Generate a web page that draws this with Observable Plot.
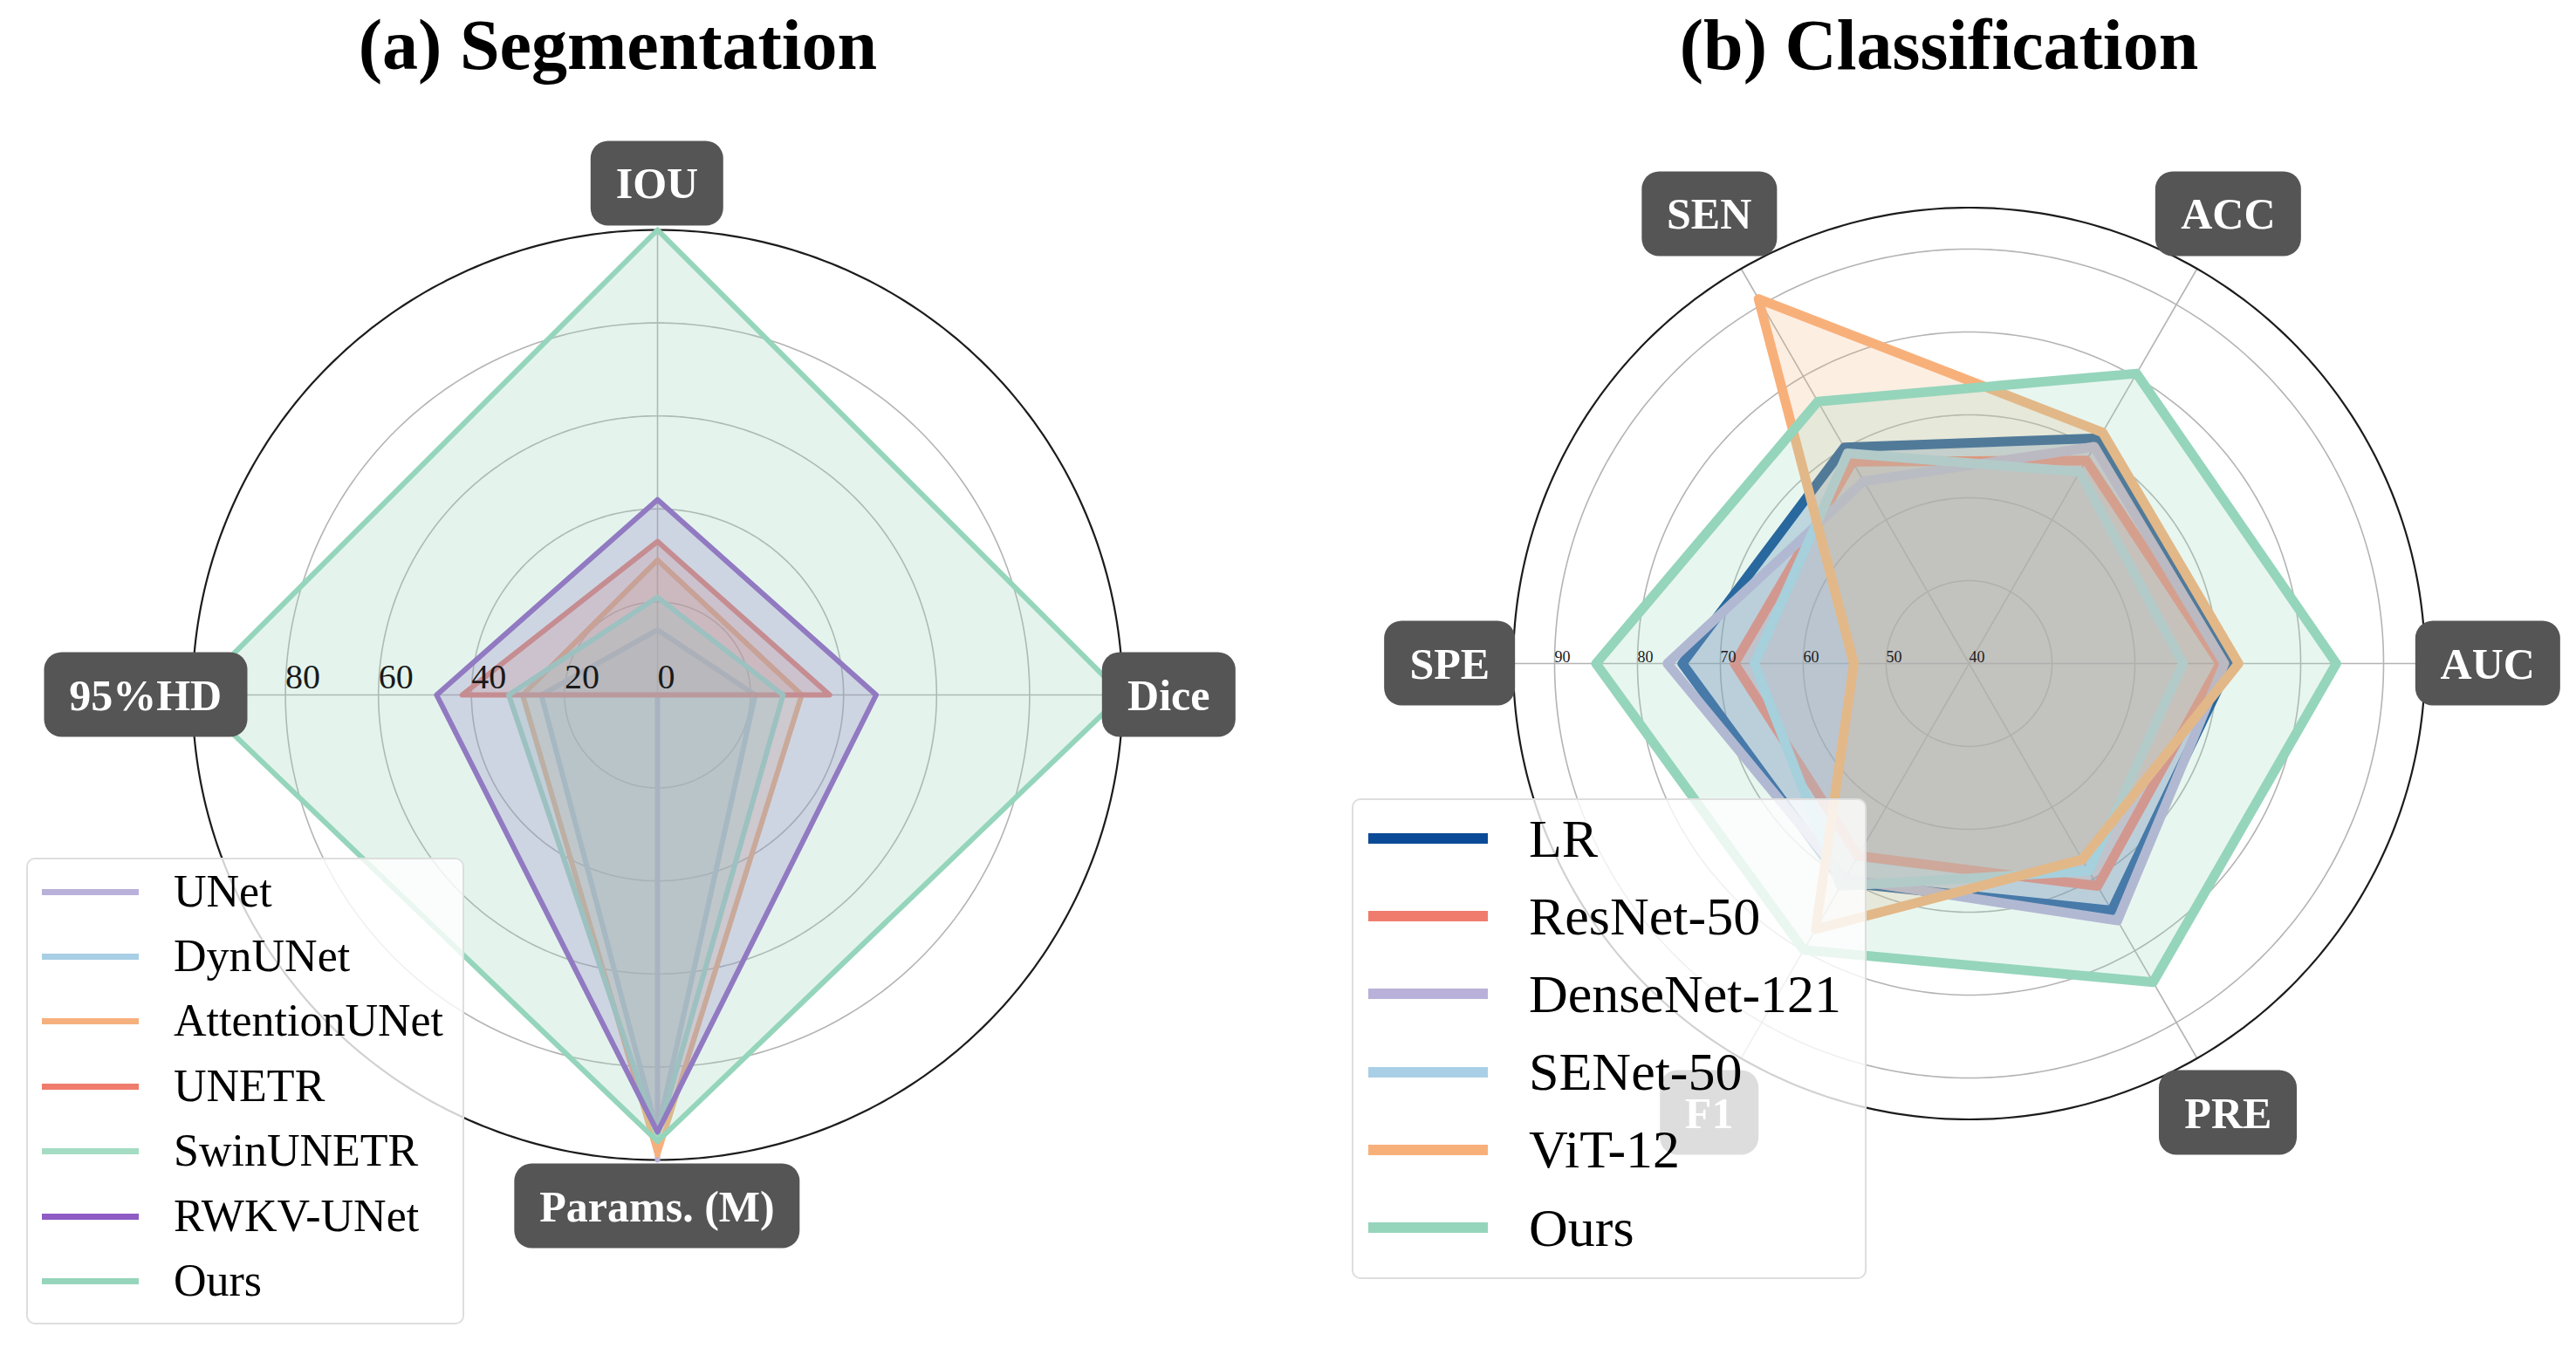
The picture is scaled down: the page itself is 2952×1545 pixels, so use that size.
<!DOCTYPE html>
<html><head><meta charset="utf-8">
<script src="https://cdn.jsdelivr.net/npm/d3@7"></script>
<script src="https://cdn.jsdelivr.net/npm/@observablehq/plot@0.6"></script>
<style>
body{margin:0;background:#fff;}
#page{position:relative;width:2952px;height:1545px;overflow:hidden;background:#fff;font-family:"Liberation Serif","Times New Roman",serif;}
.title{position:absolute;font-weight:bold;font-size:82px;line-height:82px;white-space:nowrap;transform:translateX(-50%);color:#000;}
.axbox{position:absolute;transform:translate(-50%,-50%);background:#555555;color:#fff;font-weight:bold;border-radius:20px;height:97px;display:flex;align-items:center;justify-content:center;padding:0 29px;white-space:nowrap;font-size:50px;box-sizing:border-box;}
.legend{position:absolute;background:rgba(255,255,255,0.8);border:2px solid #dedede;border-radius:10px;box-sizing:border-box;}
.lgline{position:absolute;}
.lgtext{position:absolute;white-space:nowrap;color:#000;}
.chart{position:absolute;font-family:"Liberation Serif",serif !important;}
.chart text, .chart g{font-family:"Liberation Serif",serif !important;}
</style></head><body><div id="page"></div>
<script>
// ---------------- DATA ----------------
// (a) Segmentation : axes in order IOU, Dice, Params. (M), 95%HD
const segAxes = ["IOU", "Dice", "Params. (M)", "95%HD"];
const segModels = ["UNet", "DynUNet", "AttentionUNet", "UNETR", "SwinUNETR", "RWKV-UNet", "Ours"];
const segUNet          = [0, 0, 100, 0];
const segDynUNet       = [14, 21, 94, 25];
const segAttentionUNet = [29, 31, 99, 29];
const segUNETR         = [33, 37, 0, 42];
const segSwinUNETR     = [21, 27, 95, 32];
const segRWKVUNet      = [42, 47, 94, 47.5];
const segOurs          = [100, 100, 96, 100];
const segColors = ["#b9b1d9", "#a9cfe6", "#f6b07d", "#ef7c6c", "#a4dcc3", "#8f5bc4", "#95d5bb"];
const segTicks = [0, 20, 40, 60, 80, 100];

// (b) Classification : axes in order AUC, ACC, SEN, SPE, F1, PRE
const clsAxes = ["AUC", "ACC", "SEN", "SPE", "F1", "PRE"];
const clsModels = ["LR", "ResNet-50", "DenseNet-121", "SENet-50", "ViT-12", "Ours"];
const clsLR       = [71.5, 71.4, 70.1, 74.6, 70.5, 74.4];
const clsResNet   = [70.3, 68.3, 68.1, 68.3, 66.8, 71.0];
const clsDenseNet = [70.8, 70.2, 65.4, 76.4, 70.0, 75.8];
const clsSENet    = [65.8, 66.7, 69.3, 65.9, 71.0, 68.9];
const clsViT      = [72.5, 72.2, 90.8, 53.9, 77.0, 67.3];
const clsOurs     = [84.3, 80.4, 76.5, 85.0, 79.9, 84.4];
const clsColors = ["#0b4a97", "#ef7c6c", "#b9b1d9", "#a9cfe6", "#f8b07a", "#95d5bb"];
const clsTicks = [40, 50, 60, 70, 80, 90];
const clsGrid = [50, 60, 70, 80, 90];

// ---------------- DRAWING ----------------
const page = document.getElementById("page");
const SERIF = "Liberation Serif, serif";

function radar(cfg) {
  const {axes, series, rMin, rMax, gridTicks, labelTicks, angleOf, ppu, size, cx, cy,
         sw, fo, tickFont, tickDy, labelValue} = cfg;
  const D = size / 2 / ppu;
  const ang = axes.map((a, i) => angleOf(i));
  const R = rMax - rMin;
  const circle = (t) => d3.range(0, 361, 1).map(k => ({t, x: (t - rMin) * Math.cos(k * Math.PI / 180), y: (t - rMin) * Math.sin(k * Math.PI / 180)}));
  const gridPts = gridTicks.flatMap(circle);
  const outerPts = circle(rMax);
  const spokes = axes.map((a, i) => ({a, x2: R * Math.cos(ang[i]), y2: R * Math.sin(ang[i])}));
  const marks = [
    Plot.line(gridPts, {x: "x", y: "y", z: "t", curve: "linear-closed", stroke: "#b4b4b4", strokeWidth: 1.6}),
    Plot.link(spokes, {x1: () => 0, y1: () => 0, x2: "x2", y2: "y2", stroke: "#b4b4b4", strokeWidth: 1.6}),
    Plot.line(outerPts, {x: "x", y: "y", curve: "linear-closed", stroke: "#1c1c1c", strokeWidth: 2.2})
  ];
  series.forEach(s => {
    const pts = s.values.map((v, i) => ({x: (v - rMin) * Math.cos(ang[i]), y: (v - rMin) * Math.sin(ang[i])}));
    marks.push(Plot.line(pts, {x: "x", y: "y", curve: "linear-closed", stroke: s.color, strokeWidth: sw,
      fill: s.color, fillOpacity: fo, strokeLinejoin: "round"}));
  });
  marks.push(Plot.text(labelTicks, {x: t => -(t - rMin), y: () => 0, text: t => String(t), textAnchor: "start",
    lineAnchor: "bottom", dy: tickDy, fontSize: tickFont, fontFamily: SERIF, fill: "#1a1a1a"}));
  const chart = Plot.plot({
    width: size, height: size, margin: 0,
    x: {domain: [-D, D], axis: null}, y: {domain: [-D, D], axis: null},
    style: {fontFamily: SERIF, background: "transparent", overflow: "visible"},
    marks
  });
  const left = cx - size / 2, top = cy - size / 2;
  chart.classList.add("chart");
  chart.style.left = left + "px"; chart.style.top = top + "px";
  chart.style.fontFamily = SERIF;
  page.appendChild(chart);
  const sx = chart.scale("x"), sy = chart.scale("y");
  return axes.map((a, i) => {
    const r = labelValue - rMin;
    return {a, px: left + sx.apply(r * Math.cos(ang[i])), py: top + sy.apply(r * Math.sin(ang[i]))};
  });
}

function addBoxes(boxes) {
  boxes.forEach(b => {
    const d = document.createElement("div");
    d.className = "axbox";
    d.textContent = b.a;
    d.style.left = b.px + "px"; d.style.top = b.py + "px";
    page.appendChild(d);
  });
}

function addTitle(text, cx, baseline) {
  const d = document.createElement("div");
  d.className = "title"; d.textContent = text;
  d.style.left = cx + "px"; d.style.top = (baseline - 0.8375 * 82) + "px";
  page.appendChild(d);
}

function addLegend(models, colors, o) {
  const box = document.createElement("div");
  box.className = "legend";
  Object.assign(box.style, {left: o.x + "px", top: o.y + "px", width: o.w + "px", height: o.h + "px"});
  page.appendChild(box);
  models.forEach((m, i) => {
    const ly = o.row0 + i * o.step;
    const l = document.createElement("div");
    l.className = "lgline";
    Object.assign(l.style, {left: o.lx + "px", top: (ly - o.lw / 2) + "px", width: o.llen + "px", height: o.lw + "px", background: colors[i]});
    page.appendChild(l);
    const t = document.createElement("div");
    t.className = "lgtext"; t.textContent = m;
    const base = ly + 0.331 * o.fs;
    Object.assign(t.style, {left: o.tx + "px", top: (base - 0.8375 * o.fs) + "px", fontSize: o.fs + "px", lineHeight: o.fs + "px"});
    page.appendChild(t);
  });
}

// (a) Segmentation
const segSeries = [segUNet, segDynUNet, segAttentionUNet, segUNETR, segSwinUNETR, segRWKVUNet, segOurs]
  .map((v, i) => ({name: segModels[i], values: v, color: segColors[i]}));
const segBoxes = radar({
  axes: segAxes, series: segSeries, rMin: 0, rMax: 100, gridTicks: [20, 40, 60, 80], labelTicks: segTicks,
  angleOf: i => Math.PI / 2 - i * Math.PI / 2, ppu: 5.33, size: 1400, cx: 753, cy: 796,
  sw: 6, fo: 0.26, tickFont: 40, tickDy: -8, labelValue: 110
});

// (b) Classification
const clsSeries = [clsLR, clsResNet, clsDenseNet, clsSENet, clsViT, clsOurs]
  .map((v, i) => ({name: clsModels[i], values: v, color: clsColors[i]}));
const clsBoxes = radar({
  axes: clsAxes, series: clsSeries, rMin: 40, rMax: 95, gridTicks: clsGrid, labelTicks: clsTicks,
  angleOf: i => i * Math.PI / 3, ppu: 9.5, size: 1380, cx: 2256, cy: 760,
  sw: 11, fo: 0.22, tickFont: 18, tickDy: -2, labelValue: 102.6
});

addBoxes(segBoxes);
addBoxes(clsBoxes);

addTitle("(a) Segmentation", 708, 80);
addTitle("(b) Classification", 2222, 80);

addLegend(segModels, segColors, {x: 30, y: 983, w: 502, h: 535, lx: 48, llen: 111, lw: 7, row0: 1022, step: 74.4, tx: 199, fs: 52});
addLegend(clsModels, clsColors, {x: 1549, y: 915, w: 590, h: 551, lx: 1568, llen: 137, lw: 12, row0: 961, step: 89.2, tx: 1752, fs: 62});
</script>
</body></html>
